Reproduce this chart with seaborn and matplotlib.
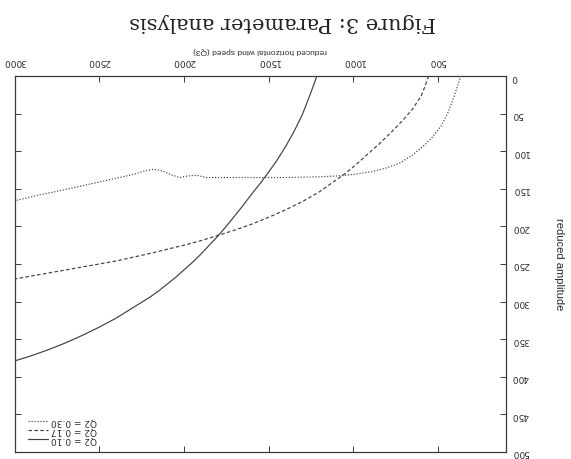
import matplotlib
matplotlib.use("Agg")
import matplotlib.pyplot as plt
import pandas as pd
import seaborn as sns

wind_q10 = [1215, 1250, 1300, 1350, 1400, 1450, 1500, 1550, 1600, 1650, 1700, 1750, 1800, 1850, 1900, 1950,
            2000, 2050, 2100, 2150, 2200, 2300, 2400, 2500, 2600, 2700, 2800, 2900, 3000]
amp_q10 = [0, 22, 51, 74, 94, 112, 128, 143, 157, 172, 186, 200, 213, 225, 237, 248,
           258, 268, 277, 286, 294, 308, 322, 334, 345, 355, 364, 372, 379]

wind_q17 = [555, 575, 600, 650, 700, 750, 800, 850, 900, 950, 1000, 1050, 1100, 1150, 1200, 1300, 1400,
            1500, 1600, 1700, 1800, 1900, 2000, 2200, 2400, 2600, 2800, 3000]
amp_q17 = [0, 13, 27, 44, 57, 69, 80, 91, 101, 111, 121, 130, 138, 146, 154, 167, 178,
           188, 197, 205, 212, 219, 225, 236, 246, 254, 262, 270]

wind_q30 = [364, 380, 404, 443, 480, 531, 580, 649, 728, 800, 885, 1000, 1100, 1200, 1400, 1600, 1800, 1867,
            1926, 1980, 2024, 2080, 2130, 2180, 2230, 2300, 2400, 2500, 2600, 2700, 2850, 3000]
amp_q30 = [0, 10, 27, 50, 66, 81, 92, 105, 116, 122, 127, 131, 133, 134, 135, 135, 135, 135,
           132, 133, 135, 131, 126, 124, 126, 131, 136, 141, 146, 151, 158, 166]

labels = ['Q2 = 0.10', 'Q2 = 0.17', 'Q2 = 0.30']
styles = ['-', (0, (3, 2)), (0, (1, 1.5))]

x_ticks = [500, 1000, 1500, 2000, 2500, 3000]
y_ticks = list(range(0, 501, 50))

sns.set_style('white')
plt.rcParams['font.family'] = ['DejaVu Sans']

fig = plt.figure(figsize=(5.71, 4.59), dpi=100)
ax = fig.add_axes([0.0254, 0.0153, 0.8602, 0.8191])

series = [(wind_q10, amp_q10), (wind_q17, amp_q17), (wind_q30, amp_q30)]
handles = []
for (xs, ys), lab, ls in zip(series, labels, styles):
    df = pd.DataFrame({'wind': xs, 'amp': ys})
    sns.lineplot(data=df, x='wind', y='amp', ax=ax, color='#404040', linewidth=0.85,
                 linestyle=ls, label=lab, legend=False, sort=False)
    handles.append(ax.lines[-1])

# the scan is rotated by 180 degrees, so flip everything
ax.set_xlim(3000, 100)
ax.set_ylim(500, 0)
ax.xaxis.tick_top()
ax.xaxis.set_label_position('top')
ax.yaxis.tick_right()
ax.yaxis.set_label_position('right')
ax.set_xticks(x_ticks)
ax.set_yticks(y_ticks)
ax.tick_params(axis='both', which='both', direction='in', length=4, width=0.7, colors='#3a3a3a',
               labelsize=6.5, labelcolor='#2a2a2a', top=True, bottom=True, left=True, right=True)
ax.tick_params(axis='x', pad=7)
ax.tick_params(axis='y', pad=4.5)
for t in ax.get_xticklabels() + ax.get_yticklabels():
    t.set_rotation(180)

ax.set_xlabel('reduced horizontal wind speed (Q3)', fontsize=6, color='#2a2a2a', rotation=180,
              labelpad=4, family=['Liberation Sans'])
ax.set_ylabel('reduced amplitude', fontsize=8, color='#2a2a2a', rotation=270, labelpad=25,
              family=['Liberation Sans'])
for s in ax.spines.values():
    s.set_color('#3a3a3a')
    s.set_linewidth(0.9)

leg = ax.legend(handles[::-1], labels[::-1], loc='lower left', bbox_to_anchor=(0.027, 0.021),
                frameon=False, fontsize=6.5, handlelength=2.2, handletextpad=0.4, labelspacing=0.0,
                borderaxespad=0, borderpad=0)
for t in leg.get_texts():
    t.set_rotation(180)
    t.set_color('#2a2a2a')

fig.text(0.494, 0.952, 'Figure 3: Parameter analysis', rotation=180, ha='center', va='center',
         fontsize=15, family=['DejaVu Serif'], color='#222222')

fig.savefig('out.png', dpi=100, facecolor='white')
